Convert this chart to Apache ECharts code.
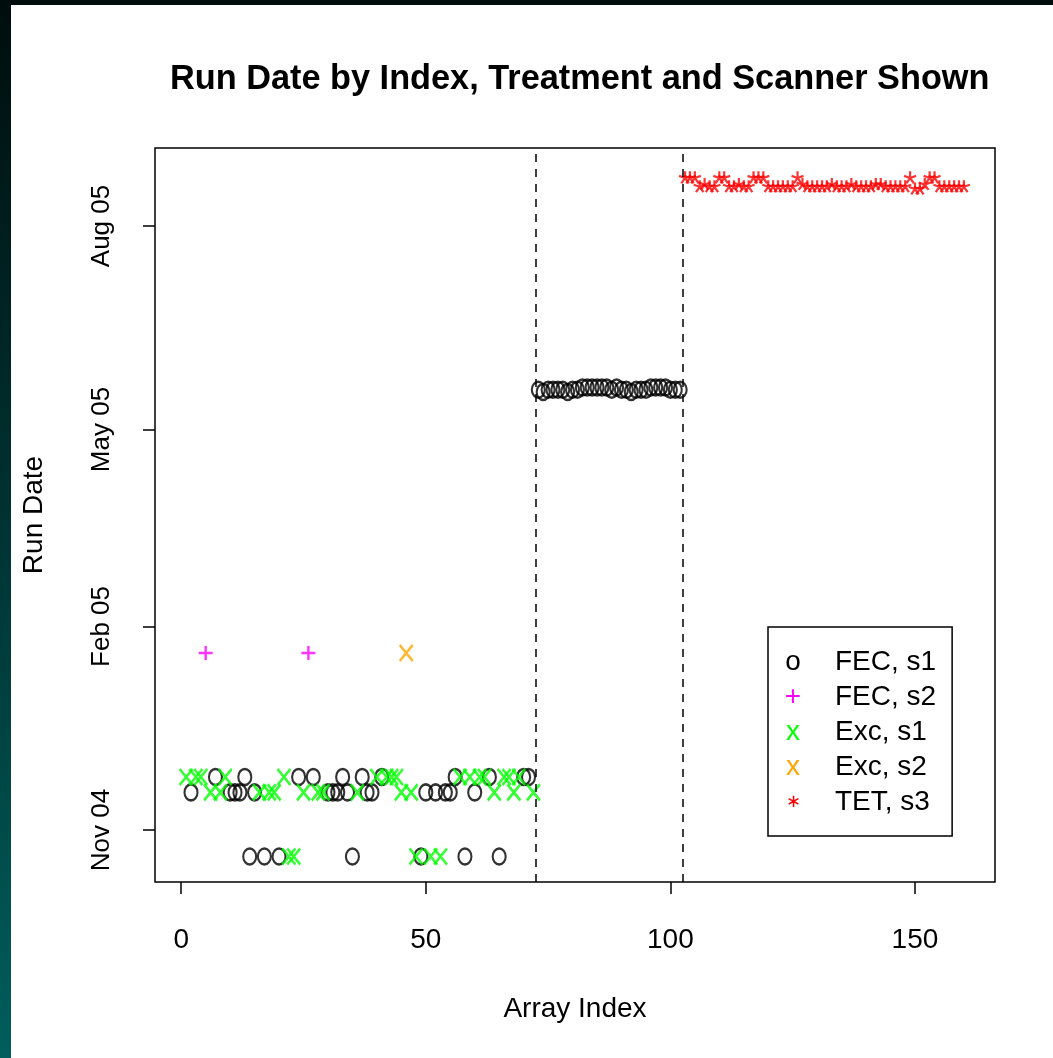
<!DOCTYPE html>
<html><head><meta charset="utf-8">
<script src="https://cdn.jsdelivr.net/npm/echarts@6/dist/echarts.min.js"></script>
<style>
html,body{margin:0;padding:0;width:1053px;height:1058px;overflow:hidden;background:linear-gradient(to bottom,#000d0d 0%,#003333 50%,#005e5c 100%);}
#panel{position:absolute;left:11px;top:5px;width:1042px;height:1053px;background:#fff;}
#chart{position:absolute;left:0;top:0;width:1053px;height:1058px;}
</style></head>
<body><div id="panel"></div><div id="chart"></div>
<script>
// ---- data ----
const xTicks = [0, 50, 100, 150];
const yTickDates = ['2004-11-01', '2005-02-01', '2005-05-01', '2005-08-01'];
const yTickLabels = ['Nov 04', 'Feb 05', 'May 05', 'Aug 05'];
const groupBreaks = [72.5, 102.5];
const legendNames = ['FEC, s1', 'FEC, s2', 'Exc, s1', 'Exc, s2', 'TET, s3'];

const fecS1 = [
  [2,'2004-11-18'],[7,'2004-11-25'],[10,'2004-11-18'],[11,'2004-11-18'],[12,'2004-11-18'],
  [13,'2004-11-25'],[14,'2004-10-20'],[15,'2004-11-18'],[17,'2004-10-20'],[20,'2004-10-20'],
  [24,'2004-11-25'],[27,'2004-11-25'],[30,'2004-11-18'],[31,'2004-11-18'],[32,'2004-11-18'],
  [33,'2004-11-25'],[34,'2004-11-18'],[35,'2004-10-20'],[37,'2004-11-25'],[38,'2004-11-18'],
  [39,'2004-11-18'],[41,'2004-11-25'],[49,'2004-10-20'],[50,'2004-11-18'],[52,'2004-11-18'],
  [54,'2004-11-18'],[55,'2004-11-18'],[56,'2004-11-25'],[58,'2004-10-20'],[60,'2004-11-18'],
  [63,'2004-11-25'],[65,'2004-10-20'],[70,'2004-11-25'],[71,'2004-11-25'],
  [73,'2005-05-19'],[74,'2005-05-18'],[75,'2005-05-19'],[76,'2005-05-19'],[77,'2005-05-19'],
  [78,'2005-05-19'],[79,'2005-05-18'],[80,'2005-05-19'],[81,'2005-05-19'],[82,'2005-05-20'],
  [83,'2005-05-20'],[84,'2005-05-20'],[85,'2005-05-20'],[86,'2005-05-20'],[87,'2005-05-20'],
  [88,'2005-05-19'],[89,'2005-05-20'],[90,'2005-05-19'],[91,'2005-05-19'],[92,'2005-05-18'],
  [93,'2005-05-19'],[94,'2005-05-19'],[95,'2005-05-19'],[96,'2005-05-20'],[97,'2005-05-20'],
  [98,'2005-05-20'],[99,'2005-05-20'],[100,'2005-05-19'],[101,'2005-05-19'],[102,'2005-05-19']
];
const fecS2 = [[5,'2005-01-20'],[26,'2005-01-20']];
const excS1 = [
  [1,'2004-11-25'],[3,'2004-11-25'],[4,'2004-11-25'],[6,'2004-11-18'],[8,'2004-11-18'],
  [9,'2004-11-25'],[16,'2004-11-18'],[18,'2004-11-18'],[19,'2004-11-18'],[21,'2004-11-25'],
  [22,'2004-10-20'],[23,'2004-10-20'],[25,'2004-11-18'],[28,'2004-11-18'],[29,'2004-11-18'],
  [36,'2004-11-18'],[40,'2004-11-25'],[42,'2004-11-25'],[43,'2004-11-25'],[44,'2004-11-25'],
  [45,'2004-11-18'],[47,'2004-11-18'],[48,'2004-10-20'],[51,'2004-10-20'],[53,'2004-10-20'],
  [57,'2004-11-25'],[59,'2004-11-25'],[61,'2004-11-25'],[62,'2004-11-25'],[64,'2004-11-18'],
  [66,'2004-11-25'],[67,'2004-11-25'],[68,'2004-11-18'],[69,'2004-11-25'],[72,'2004-11-18']
];
const excS2 = [[46,'2005-01-20']];
const tetS3 = [
  [103,'2005-08-23'],[104,'2005-08-23'],[105,'2005-08-23'],[106,'2005-08-19'],[107,'2005-08-20'],
  [108,'2005-08-19'],[109,'2005-08-19'],[110,'2005-08-23'],[111,'2005-08-23'],[112,'2005-08-19'],
  [113,'2005-08-19'],[114,'2005-08-20'],[115,'2005-08-19'],[116,'2005-08-19'],[117,'2005-08-23'],
  [118,'2005-08-23'],[119,'2005-08-23'],[120,'2005-08-19'],[121,'2005-08-19'],[122,'2005-08-19'],
  [123,'2005-08-19'],[124,'2005-08-19'],[125,'2005-08-19'],[126,'2005-08-23'],[127,'2005-08-20'],
  [128,'2005-08-19'],[129,'2005-08-19'],[130,'2005-08-19'],[131,'2005-08-19'],[132,'2005-08-19'],
  [133,'2005-08-20'],[134,'2005-08-19'],[135,'2005-08-19'],[136,'2005-08-19'],[137,'2005-08-20'],
  [138,'2005-08-19'],[139,'2005-08-19'],[140,'2005-08-19'],[141,'2005-08-19'],[142,'2005-08-20'],
  [143,'2005-08-20'],[144,'2005-08-19'],[145,'2005-08-19'],[146,'2005-08-19'],[147,'2005-08-19'],
  [148,'2005-08-19'],[149,'2005-08-23'],[150,'2005-08-18'],[151,'2005-08-18'],[152,'2005-08-20'],
  [153,'2005-08-23'],[154,'2005-08-23'],[155,'2005-08-19'],[156,'2005-08-19'],[157,'2005-08-19'],
  [158,'2005-08-19'],[159,'2005-08-19'],[160,'2005-08-19']
];

// ---- helpers ----
const BASE = Date.UTC(2004, 10, 1);
function dayNum(s) { const p = s.split('-').map(Number); return (Date.UTC(p[0], p[1]-1, p[2]) - BASE) / 86400000; }
const conv = arr => arr.map(d => [d[0], dayNum(d[1])]);
const yTickDays = yTickDates.map(dayNum);
const labelOf = {}; yTickDays.forEach((d, i) => labelOf[d] = yTickLabels[i]);

const FONT = '"Liberation Sans", Arial, Helvetica, sans-serif';
const X_PATH = 'path://M0,0L10,12M10,0L0,12';
const PLUS_PATH = 'path://M5,0L5,10M0,5L10,5';
const STAR_PATH = 'path://M5,5L5,0M5,5L9.755,3.455M5,5L7.939,9.045M5,5L2.061,9.045M5,5L0.245,3.455';
const GREEN = '#00ff00';
const glyphColors = {k:'#000000', m:'#ff00ff', g:GREEN, o:'#ffa500', r:'#ff0000'};
const legendGlyph = {'FEC, s1':['k','o'], 'FEC, s2':['m','+'], 'Exc, s1':['g','x'], 'Exc, s2':['o','x'], 'TET, s3':['r','\u2217']};

const rich = {t: {fontSize: 28, fontFamily: FONT, color: '#000', padding: [0,0,0,27], lineHeight: 28}};
Object.keys(glyphColors).forEach(k => { rich[k] = {fontSize: k === 'r' ? 18 : 28, fontFamily: FONT, color: glyphColors[k], width: 30, align: 'center', lineHeight: 28}; });

const chart = echarts.init(document.getElementById('chart'), null, {renderer: 'canvas'});
chart.setOption({
  animation: false,
  backgroundColor: 'transparent',
  title: {
    text: 'Run Date by Index, Treatment and Scanner Shown',
    left: 165, top: 58,
    textStyle: {fontFamily: FONT, fontSize: 34.3, fontWeight: 'bold', color: '#000'}
  },
  legend: {
    orient: 'vertical', left: 768, top: 627,
    data: legendNames, icon: 'none', itemWidth: 0, itemHeight: 28, itemGap: 7,
    padding: [21, 16, 20, 5],
    borderColor: '#000', borderWidth: 1.5, backgroundColor: '#fff',
    selectedMode: false,
    formatter: name => '{' + legendGlyph[name][0] + '|' + legendGlyph[name][1] + '}{t|' + name + '}',
    textStyle: {rich: rich}
  },
  grid: {left: 155, right: 58, top: 148, bottom: 176, show: true, borderColor: '#000', borderWidth: 1.5, backgroundColor: 'transparent'},
  xAxis: {
    type: 'value', min: -5.36, max: 166.36,
    name: 'Array Index', nameLocation: 'middle', nameGap: 113,
    nameTextStyle: {fontFamily: FONT, fontSize: 28, color: '#000'},
    axisLine: {show: false, onZero: false}, splitLine: {show: false},
    axisTick: {show: true, length: 12, customValues: xTicks, lineStyle: {color: '#000', width: 1.5}},
    axisLabel: {customValues: xTicks, margin: 44, fontFamily: FONT, fontSize: 28, color: '#000'}
  },
  yAxis: {
    type: 'value', min: -23.5, max: 308.25,
    name: 'Run Date', nameLocation: 'middle', nameGap: 107,
    nameTextStyle: {fontFamily: FONT, fontSize: 28, color: '#000'},
    axisLine: {show: false, onZero: false}, splitLine: {show: false},
    axisTick: {show: true, length: 12, customValues: yTickDays, lineStyle: {color: '#000', width: 1.5}},
    axisLabel: {customValues: yTickDays, rotate: 90, margin: 40, fontFamily: FONT, fontSize: 26, color: '#000',
      formatter: v => labelOf[v] || ''}
  },
  series: [
    {name: 'FEC, s1', type: 'scatter', data: conv(fecS1), symbol: 'circle', symbolSize: [13, 16],
      itemStyle: {color: 'rgba(0,0,0,0)', borderColor: '#000', borderWidth: 2.3},
      markLine: {silent: true, symbol: ['none','none'], label: {show: false},
        lineStyle: {color: '#000', width: 1.5, type: [8, 7]},
        data: groupBreaks.map(v => ({xAxis: v}))}},
    {name: 'FEC, s2', type: 'scatter', data: conv(fecS2), symbol: PLUS_PATH, symbolSize: 14,
      itemStyle: {color: 'rgba(0,0,0,0)', borderColor: '#ff00ff', borderWidth: 2.4}},
    {name: 'Exc, s1', type: 'scatter', data: conv(excS1), symbol: X_PATH, symbolSize: [13, 16],
      itemStyle: {color: 'rgba(0,0,0,0)', borderColor: GREEN, borderWidth: 2.6}},
    {name: 'Exc, s2', type: 'scatter', data: conv(excS2), symbol: X_PATH, symbolSize: [13, 16],
      itemStyle: {color: 'rgba(0,0,0,0)', borderColor: '#ffa500', borderWidth: 2.6}},
    {name: 'TET, s3', type: 'scatter', data: conv(tetS3), symbol: STAR_PATH, symbolSize: 12,
      itemStyle: {color: 'rgba(0,0,0,0)', borderColor: '#ff0000', borderWidth: 2.2}}
  ]
});
</script></body></html>
